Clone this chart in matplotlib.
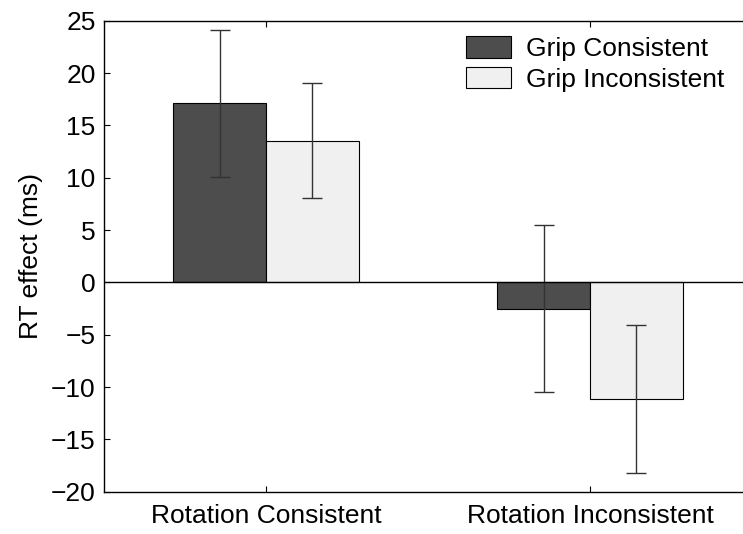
import numpy as np
import matplotlib
matplotlib.use("Agg")
import matplotlib.pyplot as plt

plt.rcParams['font.family'] = ['Liberation Sans', 'DejaVu Sans']

# values
groups = ["Rotation Consistent", "Rotation Inconsistent"]
series_names = ["Grip Consistent", "Grip Inconsistent"]
grip_consistent = [17.1, -2.5]
grip_consistent_err = [7.0, 8.0]
grip_inconsistent = [13.55, -11.15]
grip_inconsistent_err = [5.5, 7.1]
yticks = [-20, -15, -10, -5, 0, 5, 10, 15, 20, 25]

fs = 19
fig = plt.figure(figsize=(7.43, 5.34), dpi=100)
# right edge runs past the image like in the reference
ax = fig.add_axes([104 / 743, 1 - 491.7 / 534, 648 / 743, (491.7 - 20.7) / 534])

x = np.arange(1, len(groups) + 1)
w = 2 / 3.5 / 2  # matlab grouped bar width

ax.bar(x - w / 2, grip_consistent, w, color="#4d4d4d", edgecolor="black",
       linewidth=0.8, label=series_names[0], zorder=2)
ax.bar(x + w / 2, grip_inconsistent, w, color="#f0f0f0", edgecolor="black",
       linewidth=0.8, label=series_names[1], zorder=2)
ax.errorbar(x - w / 2, grip_consistent, yerr=grip_consistent_err, fmt="none",
            ecolor="#333333", elinewidth=1, capsize=7, capthick=1, zorder=3)
ax.errorbar(x + w / 2, grip_inconsistent, yerr=grip_inconsistent_err, fmt="none",
            ecolor="#333333", elinewidth=1, capsize=7, capthick=1, zorder=3)
ax.axhline(0, color="black", linewidth=1, zorder=4)

ax.set_xlim(0.5, 2.5)
ax.set_ylim(-20, 25)
ax.set_xticks(x)
ax.set_xticklabels(groups, fontsize=fs)
ax.set_yticks(yticks)
ax.tick_params(axis="y", labelsize=fs, pad=6)
ax.tick_params(axis="x", pad=9)
ax.tick_params(direction="in", length=4.5, width=0.8, top=True, right=True)
for s in ax.spines.values():
    s.set_linewidth(1)
ax.set_ylabel("RT effect (ms)", fontsize=fs, labelpad=6)

ax.legend(loc="upper left", bbox_to_anchor=(465.7 / 743, 1 - 36 / 534),
          bbox_transform=fig.transFigure, frameon=False, fontsize=fs,
          handlelength=1.7, handleheight=0.88, handletextpad=0.6,
          labelspacing=0.22, borderpad=0, borderaxespad=0)

fig.savefig("out.png", dpi=100)
